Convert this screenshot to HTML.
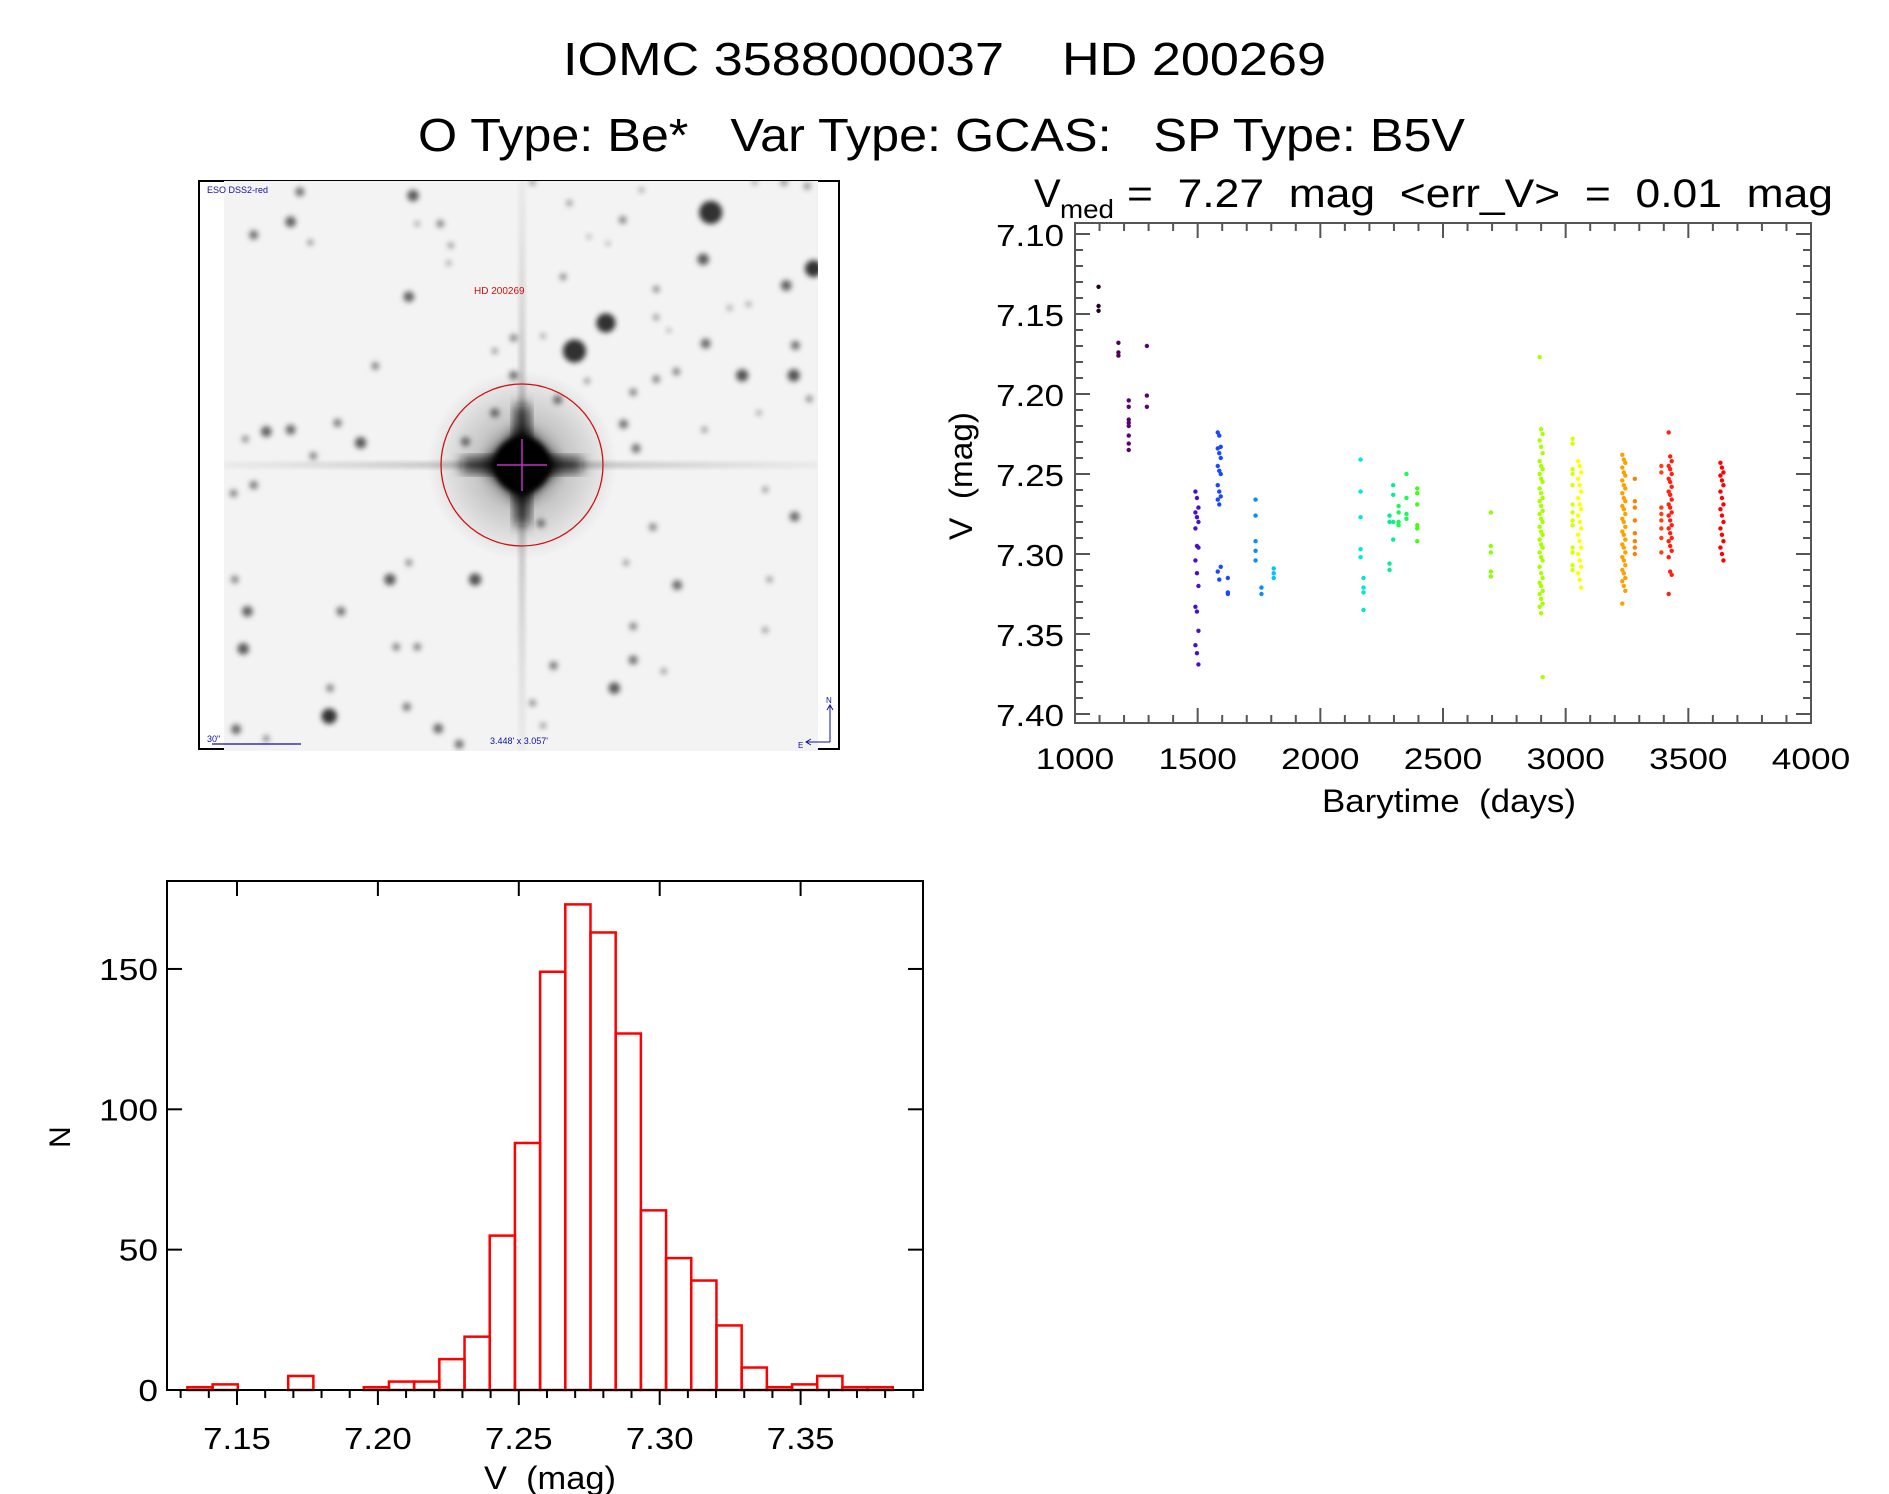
<!DOCTYPE html>
<html><head><meta charset="utf-8"><title>IOMC 3588000037 HD 200269</title>
<style>html,body{margin:0;padding:0;background:#fff;}svg{display:block;}text{font-family:"Liberation Sans",sans-serif;white-space:pre;}</style>
</head><body>
<svg id="root" xmlns="http://www.w3.org/2000/svg" width="1889" height="1494" viewBox="0 0 1889 1494">
<defs>
<filter id="blur2" x="-80%" y="-80%" width="260%" height="260%"><feGaussianBlur stdDeviation="2.6"/></filter>
<filter id="blur6" x="-50%" y="-50%" width="200%" height="200%"><feGaussianBlur stdDeviation="6"/></filter>
<radialGradient id="halo"><stop offset="0" stop-color="#000" stop-opacity="0.55"/><stop offset="0.5" stop-color="#000" stop-opacity="0.18"/><stop offset="1" stop-color="#000" stop-opacity="0"/></radialGradient>
<linearGradient id="spikeH" x1="0" x2="1"><stop offset="0" stop-color="#888" stop-opacity="0.3"/><stop offset="0.5" stop-color="#222"/><stop offset="1" stop-color="#888" stop-opacity="0.3"/></linearGradient>
<linearGradient id="spikeV" x1="0" x2="0" y1="0" y2="1"><stop offset="0" stop-color="#888" stop-opacity="0.3"/><stop offset="0.5" stop-color="#222"/><stop offset="1" stop-color="#888" stop-opacity="0.3"/></linearGradient>
<clipPath id="imgclip"><rect x="224" y="181" width="594" height="570"/></clipPath>
</defs>
<text x="563" y="75" font-size="46" textLength="763" lengthAdjust="spacingAndGlyphs">IOMC 3588000037    HD 200269</text>
<text x="418" y="151" font-size="46" textLength="1047" lengthAdjust="spacingAndGlyphs">O Type: Be*   Var Type: GCAS:   SP Type: B5V</text>

<g id="sky">
<rect x="199" y="181" width="640" height="568" fill="#fff" stroke="#000" stroke-width="2"/>
<g clip-path="url(#imgclip)">
<rect x="224" y="181" width="594" height="570" fill="#f3f3f3"/>
<g id="stars"></g>
<circle cx="522" cy="465" r="95" fill="url(#halo)"/>
<rect x="224" y="463" width="594" height="4" fill="url(#spikeH)" opacity="0.5" filter="url(#blur2)"/>
<rect x="520" y="181" width="4" height="570" fill="url(#spikeV)" opacity="0.5" filter="url(#blur2)"/>
<rect x="462" y="459" width="120" height="12" fill="#111" filter="url(#blur6)"/>
<rect x="516" y="405" width="12" height="120" fill="#111" filter="url(#blur6)"/>
<rect x="495" y="438" width="54" height="54" fill="#000" transform="rotate(45 522 465)" filter="url(#blur6)"/>
<circle cx="522" cy="465" r="28" fill="#000" filter="url(#blur2)"/>
</g>
<circle cx="522" cy="465" r="81" fill="none" stroke="#d01010" stroke-width="1.3"/>
<line x1="497" y1="465" x2="547" y2="465" stroke="#c030c0" stroke-width="1.5"/>
<line x1="522" y1="439" x2="522" y2="491" stroke="#c030c0" stroke-width="1.5"/>
<text x="474" y="294" font-size="10" fill="#d01010">HD 200269</text>
<text x="207" y="193" font-size="9" fill="#1010a0">ESO DSS2-red</text>
<text x="207" y="742" font-size="9" fill="#1010a0">30"</text>
<line x1="212" y1="744" x2="301" y2="744" stroke="#1010a0" stroke-width="1.2"/>
<text x="490" y="744" font-size="9" fill="#1010a0">3.448' x 3.057'</text>
<path d="M830 742 L830 706 M827 710 L830 705 L833 710 M830 742 L807 742 M811 739 L806 742 L811 745" stroke="#1010a0" fill="none" stroke-width="1"/>
<text x="826" y="703" font-size="8" fill="#1010a0">N</text>
<text x="798" y="748" font-size="8" fill="#1010a0">E</text>
</g>

<g id="lc"></g>
<g id="hist"></g>
</svg>
<script>
// ---- light curve data ----
const lcTimes = [1096,1177,1219,1293,1497,1588,1623,1736,1760,1810,2164,2176,2282,2297,2319,2351,2395,2695,2900,3028,3057,3237,3282,3390,3426,3637];
const lcColors = ["#200020","#500058","#5a0070","#5a0070","#4a10c8","#1848ff","#1848ff","#0a8cff","#0a8cff","#00c4ff","#00e6e6","#00e6d0","#00f090","#00f090","#10ff50","#10ff50","#40ff10","#8cff00","#a8ff00","#d8ff00","#ffff00","#ffa000","#ff8000","#ff4010","#ff2010","#ff0000"];
const lcMags = [
[7.133,7.145,7.148],
[7.168,7.174,7.176],
[7.204,7.208,7.216,7.218,7.220,7.226,7.231,7.235],
[7.170,7.201,7.208],
[7.261,7.265,7.271,7.274,7.277,7.280,7.284,7.295,7.296,7.304,7.312,7.320,7.333,7.336,7.348,7.357,7.362,7.369],
[7.224,7.226,7.233,7.234,7.237,7.240,7.245,7.248,7.250,7.257,7.261,7.264,7.266,7.269,7.308,7.311,7.316],
[7.315,7.324,7.325],
[7.266,7.276,7.292,7.298,7.304],
[7.321,7.325],
[7.309,7.312,7.315],
[7.241,7.261,7.277,7.297,7.302],
[7.315,7.321,7.324,7.335],
[7.276,7.280,7.306,7.310],
[7.257,7.263,7.280,7.291],
[7.270,7.274,7.280,7.282],
[7.250,7.265,7.275,7.278],
[7.259,7.262,7.269,7.282,7.284,7.292],
[7.274,7.295,7.299,7.311,7.314],
[7.177,7.222,7.225,7.229,7.233,7.237,7.242,7.245,7.247,7.250,7.253,7.255,7.259,7.262,7.265,7.267,7.270,7.273,7.275,7.278,7.280,7.283,7.286,7.288,7.291,7.294,7.296,7.299,7.302,7.304,7.308,7.312,7.315,7.318,7.320,7.323,7.325,7.328,7.331,7.333,7.337,7.377],
[7.228,7.231,7.247,7.250,7.257,7.269,7.274,7.279,7.282,7.296,7.299,7.307,7.310],
[7.242,7.245,7.249,7.253,7.257,7.261,7.265,7.269,7.272,7.276,7.280,7.284,7.288,7.292,7.296,7.300,7.304,7.308,7.312,7.316,7.321],
[7.238,7.241,7.243,7.246,7.249,7.251,7.254,7.257,7.259,7.262,7.265,7.267,7.270,7.272,7.275,7.278,7.280,7.283,7.286,7.288,7.291,7.294,7.296,7.299,7.302,7.304,7.307,7.310,7.312,7.315,7.317,7.320,7.323,7.331],
[7.253,7.267,7.271,7.279,7.287,7.292,7.296,7.300],
[7.245,7.249,7.271,7.275,7.279,7.284,7.290,7.299],
[7.224,7.239,7.242,7.245,7.247,7.250,7.253,7.255,7.258,7.261,7.263,7.266,7.269,7.271,7.274,7.276,7.279,7.282,7.284,7.287,7.290,7.292,7.295,7.298,7.302,7.311,7.313,7.325],
[7.243,7.246,7.249,7.251,7.254,7.257,7.261,7.265,7.269,7.272,7.276,7.280,7.284,7.288,7.292,7.296,7.300,7.304]
];
const lcXTicks = [1000,1500,2000,2500,3000,3500,4000];
const lcYTicks = ["7.10","7.15","7.20","7.25","7.30","7.35","7.40"];
// ---- histogram data ----
const histStart = 7.1324;
const histBinWidth = 0.00894;
const histCounts = [1,2,0,0,5,0,0,1,3,3,11,19,55,88,149,173,163,127,64,47,39,23,8,1,2,5,1,1];
const histXTicks = ["7.15","7.20","7.25","7.30","7.35"];
const histYTicks = [0,50,100,150];
// ---- star field (image pixel positions in zoomed coords) ----
const starSpots = [[1230,100,30],[1475,250,22],[980,395,25],[905,470,30],[520,55,15],[250,45,12],[228,125,14],[140,160,12],[585,130,10],[510,325,14],[1020,120,10],[1212,225,15],[1410,295,14],[1218,450,13],[1432,455,12],[1305,535,16],[1428,535,16],[1148,525,10],[1100,545,10],[1045,580,10],[1022,665,12],[1052,730,12],[865,600,12],[715,635,12],[645,712,12],[760,535,12],[760,435,10],[715,470,8],[935,550,8],[878,272,9],[1100,305,9],[1100,380,8],[430,510,10],[340,662,11],[170,685,14],[228,680,13],[120,705,9],[395,715,15],[282,750,10],[140,828,11],[92,850,10],[825,930,11],[1092,940,10],[1430,912,13],[1360,840,8],[465,1080,15],[668,1080,16],[510,1035,9],[1150,1095,13],[1028,1035,8],[125,1165,14],[348,1165,12],[95,1080,10],[115,1265,15],[480,1260,10],[530,1260,10],[1045,1205,10],[1045,1295,12],[855,1310,11],[1000,1370,15],[1118,1325,8],[322,1370,10],[320,1445,20],[505,1420,11],[580,1478,13],[98,1480,13],[170,1505,9],[630,1520,12],[805,1410,9],[830,1470,8],[1370,1080,8],[1360,1215,8],[1465,598,9],[1345,635,7],[1215,680,8],[610,188,8],[605,235,7],[275,180,8],[530,130,7],[1460,30,9],[1405,20,9],[1335,20,7],[1065,40,7],[805,20,8],[893,75,8],[940,165,6],[985,183,6],[1275,355,7],[1320,345,7],[830,430,7],[1130,415,6]];

const NS = "http://www.w3.org/2000/svg";
function mk(tag, attrs, parent){const e=document.createElementNS(NS,tag);for(const k in attrs)e.setAttribute(k,attrs[k]);parent.appendChild(e);return e;}
function txtLen(s){let w=0;for(const c of s)w+=(c==='.'?9:19.6);return w;}

// stars
const sg=document.getElementById('stars');
starSpots.forEach(s=>{
  const r=s[2]/2.6;
  const c=mk('circle',{cx:195+s[0]/2.385,cy:175+s[1]/2.67,r:r,fill:'#000','fill-opacity':Math.min(0.8,0.15+r/12),filter:'url(#blur2)'},sg);
  
  
});

// ---- light curve ----
const lc=document.getElementById('lc');
const LX0=1075,LX1=1811,LY0=223,LY1=723;
function xl(t){return LX0+(t-1000)*(LX1-LX0)/3000;}
function yl(m){return 234+(m-7.10)*1600;}
const axc="#555";
const fr=mk('rect',{x:LX0,y:LY0,width:LX1-LX0,height:LY1-LY0,fill:'none',stroke:axc,'stroke-width':2},lc);


for(let t=1000;t<=4000;t+=100){
  const maj=(t%500===0), L=maj?15:8, x=xl(t);
  mk('line',{x1:x,y1:LY1,x2:x,y2:LY1-L,stroke:axc,'stroke-width':2},lc);
  mk('line',{x1:x,y1:LY0,x2:x,y2:LY0+L,stroke:axc,'stroke-width':2},lc);
}
for(let i=0;i<=31;i++){
  const m=7.10+i*0.01, y=yl(m); if(y<LY0-0.5||y>LY1+0.5)continue;
  const maj=(i%5===0), L=maj?15:8;
  mk('line',{x1:LX0,y1:y,x2:LX0+L,y2:y,stroke:axc,'stroke-width':2},lc);
  mk('line',{x1:LX1,y1:y,x2:LX1-L,y2:y,stroke:axc,'stroke-width':2},lc);
}
lcXTicks.forEach(t=>{
  const s=String(t);
  const e=mk('text',{x:xl(t)-txtLen(s)/2,y:769,'font-size':30,textLength:txtLen(s),lengthAdjust:'spacingAndGlyphs'},lc);
  e.textContent=s;
  
  
});
lcYTicks.forEach(s=>{
  const e=mk('text',{x:1064-txtLen(s),y:yl(parseFloat(s))+12,'font-size':31,textLength:txtLen(s),lengthAdjust:'spacingAndGlyphs'},lc);
  e.textContent=s;
  
  
});
lcTimes.forEach((t,gi)=>{
  lcMags[gi].forEach((m,k)=>{
    const c=mk('circle',{cx:xl(t)+((k%3)-1)*(lcMags[gi].length>15?1.5:0),cy:yl(m),r:2.2,fill:lcColors[gi]},lc);
    
    
  });
});
let e;
e=mk('text',{x:1034,y:207,'font-size':40},lc);e.textContent='V';


e=mk('text',{x:1060,y:218,'font-size':26,textLength:54,lengthAdjust:'spacingAndGlyphs'},lc);e.textContent='med';


e=mk('text',{x:1127,y:207,'font-size':40,textLength:706,lengthAdjust:'spacingAndGlyphs'},lc);e.textContent='=  7.27  mag  <err_V>  =  0.01  mag';


e=mk('text',{x:1322,y:812,'font-size':32,textLength:254,lengthAdjust:'spacingAndGlyphs'},lc);e.textContent='Barytime  (days)';


e=mk('text',{x:0,y:0,'font-size':32,textLength:128,lengthAdjust:'spacingAndGlyphs',transform:'translate(972,540) rotate(-90)'},lc);e.textContent='V  (mag)';



// ---- histogram ----
const hg=document.getElementById('hist');
const HX0=167,HX1=923,HY0=881,HY1=1390;
function xh(v){return 237+(v-7.15)*2818;}
function yh(n){return HY1-n*2.807;}
histCounts.forEach((n,i)=>{
  const a=xh(histStart+i*histBinWidth), b=xh(histStart+(i+1)*histBinWidth);
  const r=mk('rect',{x:a,y:yh(n),width:b-a,height:HY1-yh(n),fill:'none',stroke:'#ff0000','stroke-width':2.5},hg);
  
  
});
const hf=mk('rect',{x:HX0,y:HY0,width:HX1-HX0,height:HY1-HY0,fill:'none',stroke:'#000','stroke-width':2},hg);


for(let i=-2;i<=24;i++){
  const v=7.15+i*0.01, x=xh(v); if(x<HX0||x>HX1)continue;
  const maj=(i%5===0);
  mk('line',{x1:x,y1:HY1,x2:x,y2:HY1+(maj?15:8),stroke:'#000','stroke-width':2},hg);
  if(maj) mk('line',{x1:x,y1:HY0,x2:x,y2:HY0+15,stroke:'#000','stroke-width':2},hg);
}
histYTicks.forEach(n=>{
  const y=yh(n);
  mk('line',{x1:HX0,y1:y,x2:HX0+15,y2:y,stroke:'#000','stroke-width':2},hg);
  mk('line',{x1:HX1,y1:y,x2:HX1-15,y2:y,stroke:'#000','stroke-width':2},hg);
  const s=String(n);
  const t=mk('text',{x:158-txtLen(s),y:y+11,'font-size':31,textLength:txtLen(s),lengthAdjust:'spacingAndGlyphs'},hg);
  t.textContent=s;
  
  
});
histXTicks.forEach(s=>{
  const t=mk('text',{x:xh(parseFloat(s))-txtLen(s)/2,y:1449,'font-size':31,textLength:txtLen(s),lengthAdjust:'spacingAndGlyphs'},hg);
  t.textContent=s;
  
  
});
e=mk('text',{x:484,y:1489,'font-size':32,textLength:132,lengthAdjust:'spacingAndGlyphs'},hg);e.textContent='V  (mag)';


e=mk('text',{x:0,y:0,'font-size':30,transform:'translate(70,1148) rotate(-90)'},hg);e.textContent='N';


</script>
</body></html>
